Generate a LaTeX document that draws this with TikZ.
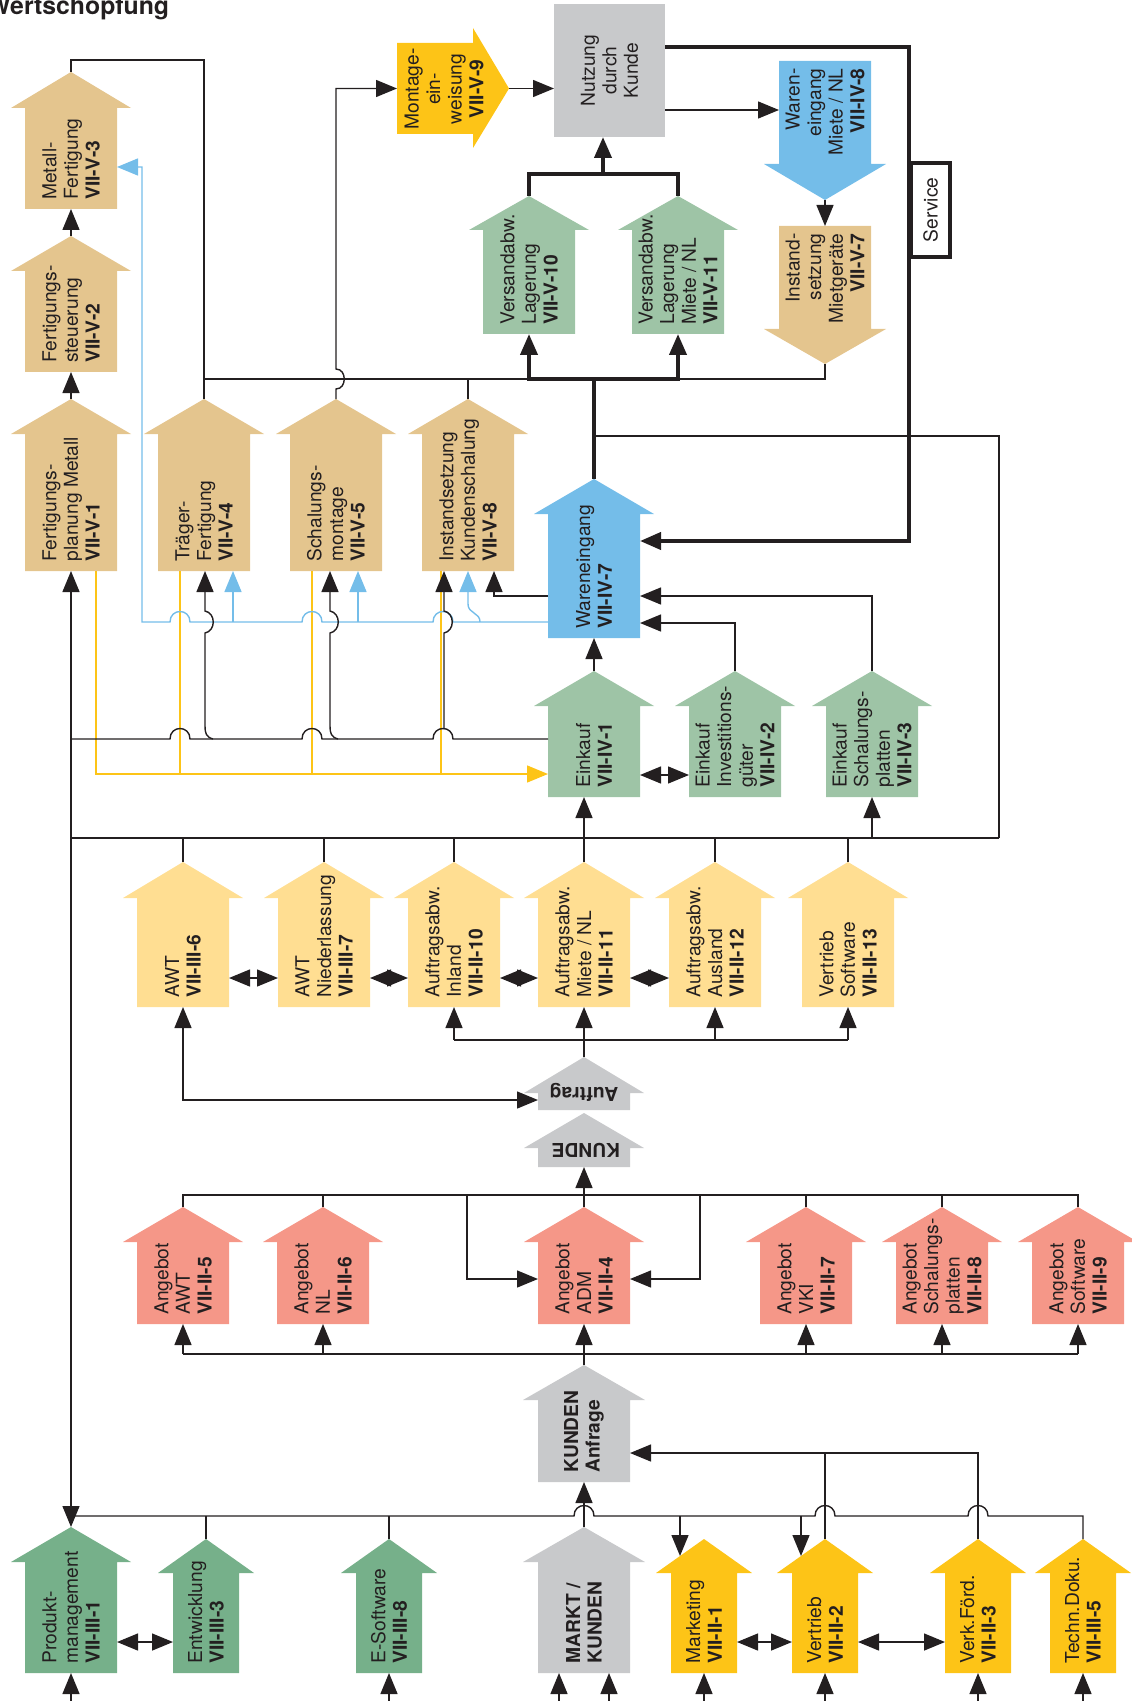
\documentclass[tikz,border=0pt]{standalone}
\usepackage{fontspec}
\setmainfont{TeX Gyre Heros}
\usetikzlibrary{arrows.meta}

\definecolor{fertig}{RGB}{228,197,142}
\definecolor{waren}{RGB}{116,189,233}
\definecolor{versand}{RGB}{158,196,166}
\definecolor{entw}{RGB}{118,176,138}
\definecolor{gelb}{RGB}{253,196,23}
\definecolor{hellgelb}{RGB}{255,222,146}
\definecolor{angebot}{RGB}{245,151,136}
\definecolor{grau}{RGB}{200,201,203}
\definecolor{linie}{RGB}{35,31,32}

% up arrow: name, x, tip, head base, bottom, half shaft, half head, colour, text
\newcommand{\pfeil}[9]{%
  \fill[#8] (#2-#6,#5) -- (#2-#6,#4) -- (#2-#7,#4) -- (#2,#3) -- (#2+#7,#4)
    -- (#2+#6,#4) -- (#2+#6,#5) -- cycle;
  \node[shaft, minimum width=#6pt, minimum height={(#5-#4)*0.5pt}] (#1) at (#2,{(#4+#5)/2}) {};
  \coordinate (#1-tip) at (#2,#3);
  \node[lbl, anchor=west] at (#2,#5-9) {#9};
}

\begin{document}
\begin{tikzpicture}[x=0.5pt, y=-0.5pt,
    ln/.style={draw=linie, line width=0.7pt},
    arr/.style={ln, -{Triangle[length=10.5pt, width=8.5pt]}},
    darr/.style={ln, {Triangle[length=10.5pt, width=8.5pt]}-{Triangle[length=10.5pt, width=8.5pt]}},
    thk/.style={draw=linie, line width=2pt},
    thkarr/.style={thk, -{Triangle[length=10.5pt, width=8.5pt]}},
    bln/.style={draw=waren, line width=0.7pt},
    barr/.style={bln, -{Triangle[length=10.5pt, width=8.5pt]}},
    yln/.style={draw=gelb, line width=0.7pt},
    yarr/.style={yln, -{Triangle[length=10.5pt, width=8.5pt]}},
    shaft/.style={inner sep=0pt, outer sep=0pt},
    lbl/.style={rotate=90, align=left, inner sep=0pt, text=linie, font=\fontsize{9.6}{10.8}\selectfont},
    grosslbl/.style={inner sep=0pt, text=linie, font=\bfseries\fontsize{9.6}{10.8}\selectfont}]
    \useasboundingbox (0,0) rectangle (1131,1701);

    % Title
    \node[anchor=base west, inner sep=0pt, text=linie, font=\bfseries\fontsize{12.4}{14}\selectfont] (titel) at (-13,15) {Wertschöpfung};

    % Bus lines
    \coordinate (busF) at (0,379);
    \coordinate (busR) at (0,436);
    \coordinate (busL) at (0,622);
    \coordinate (busB) at (0,739);
    \coordinate (busY) at (0,774);
    \coordinate (busE) at (0,838);
    \coordinate (busX) at (0,978);
    \coordinate (busA) at (0,1040);
    \coordinate (busG) at (0,1195);
    \coordinate (busH) at (0,1354);
    \coordinate (busK) at (0,1453);
    \coordinate (busM) at (0,1516);
    \coordinate (busD) at (0,1642);
    \coordinate (rand) at (0,1705);

    % Fertigung
    \pfeil{mf}{71}{72}{108}{209}{46}{60}{fertig}{Metall-\\Fertigung\\\textbf{VII-V-3}}
    \pfeil{fs}{71}{236}{271}{372}{46}{60}{fertig}{Fertigungs-\\steuerung\\\textbf{VII-V-2}}
    \pfeil{fpm}{71}{399}{434}{571}{46}{60}{fertig}{Fertigungs-\\planung Metall\\\textbf{VII-V-1}}
    \pfeil{tf}{204}{399}{434}{571}{46}{60}{fertig}{Träger-\\Fertigung\\\textbf{VII-V-4}}
    \pfeil{sm}{336}{399}{434}{571}{46}{60}{fertig}{Schalungs-\\montage\\\textbf{VII-V-5}}
    \pfeil{ik}{468}{399}{434}{571}{46}{60}{fertig}{Instandsetzung\\Kundenschalung\\\textbf{VII-V-8}}

    % Montage, Nutzung
    \fill[gelb] (397,43) -- (473,43) -- (473,28) -- (509,88.5) -- (473,148) -- (473,134) -- (397,134) -- cycle;
    \node[shaft, minimum width=38pt, minimum height=45.5pt] (me) at (435,88.5) {};
    \coordinate (me-tip) at (509,88.5);
    \node[lbl, align=center] at (444,89) {Montage-\\ein-\\weisung\\\textbf{VII-V-9}};
    \node[shaft, fill=grau, minimum width=55.5pt, minimum height=66.5pt] (nk) at (609.5,70.5) {};
    \node[lbl, align=center] at (nk) {Nutzung\\durch\\Kunde};

    % Versand
    \pfeil{v10}{529}{196}{230}{334}{46}{60}{versand}{Versandabw.\\Lagerung\\\textbf{VII-V-10}}
    \pfeil{v11}{678}{196}{230}{334}{46}{60}{versand}{Versandabw.\\Lagerung\\Miete / NL\\\textbf{VII-V-11}}

    % Mietgeraete (down arrows)
    \fill[waren] (779,61) -- (871,61) -- (871,164) -- (886,164) -- (825,200) -- (764,164) -- (779,164) -- cycle;
    \node[shaft, minimum width=46pt, minimum height=51.5pt] (wm) at (825,112.5) {};
    \coordinate (wm-tip) at (825,200);
    \node[lbl, align=right, anchor=east] at (825,68) {Waren-\\eingang\\Miete / NL\\\textbf{VII-IV-8}};
    \fill[fertig] (779,226) -- (871,226) -- (871,329) -- (886,329) -- (825,364) -- (764,329) -- (779,329) -- cycle;
    \node[shaft, minimum width=46pt, minimum height=51.5pt] (im) at (825,277.5) {};
    \coordinate (im-tip) at (825,364);
    \node[lbl, align=right, anchor=east] at (825,233) {Instand-\\setzung\\Mietgeräte\\\textbf{VII-V-7}};

    % Service
    \node[draw=linie, line width=2pt, fill=white, minimum width=19.5pt, minimum height=47pt, inner sep=0pt] (sv) at (930.5,210) {};
    \node[lbl] at (sv) {Service};

    % Wareneingang, Einkauf
    \pfeil{we}{594}{479}{514}{638}{46}{60}{waren}{Wareneingang\\\textbf{VII-IV-7}}
    \pfeil{ek1}{594}{671}{706}{797}{46}{60}{versand}{Einkauf\\\textbf{VII-IV-1}}
    \pfeil{ek2}{735}{671}{706}{797}{46}{60}{versand}{Einkauf\\Investitions-\\güter\\\textbf{VII-IV-2}}
    \pfeil{ek3}{872}{671}{706}{797}{46}{60}{versand}{Einkauf\\Schalungs-\\platten\\\textbf{VII-IV-3}}

    % Auftragsabwicklung
    \pfeil{awt6}{183}{862}{898}{1007}{46}{60}{hellgelb}{AWT\\\textbf{VII-III-6}}
    \pfeil{awt7}{324}{862}{898}{1007}{46}{60}{hellgelb}{AWT\\Niederlassung\\\textbf{VII-III-7}}
    \pfeil{ai10}{454}{862}{898}{1007}{46}{60}{hellgelb}{Auftragsabw.\\Inland\\\textbf{VII-II-10}}
    \pfeil{am11}{584}{862}{898}{1007}{46}{60}{hellgelb}{Auftragsabw.\\Miete / NL\\\textbf{VII-II-11}}
    \pfeil{aa12}{715}{862}{898}{1007}{46}{60}{hellgelb}{Auftragsabw.\\Ausland\\\textbf{VII-II-12}}
    \pfeil{vs13}{848}{862}{898}{1007}{46}{60}{hellgelb}{Vertrieb\\Software\\\textbf{VII-II-13}}

    % Auftrag, Kunde
    \pfeil{auf}{584}{1057}{1093}{1110}{46}{60}{grau}{}
    \node[grosslbl, rotate=180] at (584,1092) {Auftrag};
    \pfeil{kd}{584}{1113}{1148}{1167}{46}{60}{grau}{}
    \node[grosslbl, rotate=180] at (586,1150) {KUNDE};

    % Angebote
    \pfeil{an5}{183}{1207}{1242}{1324}{46}{60}{angebot}{Angebot\\AWT\\\textbf{VII-II-5}}
    \pfeil{an6}{323}{1207}{1242}{1324}{46}{60}{angebot}{Angebot\\NL\\\textbf{VII-II-6}}
    \pfeil{an4}{584}{1207}{1242}{1324}{46}{60}{angebot}{Angebot\\ADM\\\textbf{VII-II-4}}
    \pfeil{an7}{806}{1207}{1242}{1324}{46}{60}{angebot}{Angebot\\VKI\\\textbf{VII-II-7}}
    \pfeil{an8}{942}{1207}{1242}{1324}{46}{60}{angebot}{Angebot\\Schalungs-\\platten\\\textbf{VII-II-8}}
    \pfeil{an9}{1078}{1207}{1242}{1324}{46}{60}{angebot}{Angebot\\Software\\\textbf{VII-II-9}}

    % Kunden, Markt
    \pfeil{ka}{584}{1365}{1400}{1482}{46}{61}{grau}{\textbf{KUNDEN}\\\textbf{Anfrage}}
    \pfeil{mkd}{584}{1527}{1562}{1673}{46}{61}{grau}{\textbf{MARKT /}\\\textbf{KUNDEN}}

    % Produkt, Vertrieb
    \pfeil{pm}{71}{1527}{1562}{1673}{46}{60}{entw}{Produkt-\\management\\\textbf{VII-III-1}}
    \pfeil{ew}{206}{1539}{1573}{1673}{33}{48}{entw}{Entwicklung\\\textbf{VII-III-3}}
    \pfeil{es}{389}{1539}{1573}{1673}{33}{48}{entw}{E-Software\\\textbf{VII-III-8}}
    \pfeil{mk}{704}{1539}{1573}{1673}{33}{48}{gelb}{Marketing\\\textbf{VII-II-1}}
    \pfeil{vt}{825}{1539}{1573}{1673}{33}{48}{gelb}{Vertrieb\\\textbf{VII-II-2}}
    \pfeil{vf}{978}{1539}{1573}{1673}{33}{48}{gelb}{Verk.Förd.\\\textbf{VII-II-3}}
    \pfeil{td}{1083}{1539}{1573}{1673}{33}{48}{gelb}{Techn.Doku.\\\textbf{VII-III-5}}

    % Fertigung chain
    \draw[arr] (fs-tip) -- (mf.south);
    \draw[arr] (fpm-tip) -- (fs.south);
    \draw[ln] (mf-tip) -- ++(0,-12) -| (tf-tip);
    \draw[ln] (tf-tip |- busF) -- (im-tip |- busF) -- (im-tip);
    \draw[ln] (ik-tip) -- (ik-tip |- busF);
    \draw[arr] (sm-tip) -- (336,389) .. controls (347,389) and (347,369) .. (336,369)
        -- (me.west -| sm-tip) -- (me.west);
    \draw[arr] (me-tip) -- (me-tip -| nk.west);

    % Versand, Service
    \coordinate (vk) at (603,174);
    \draw[thk] (v10-tip) -- ++(0,-22) -| (v11-tip);
    \draw[thkarr] (vk) -- (vk |- nk.south);
    \draw[thk] (we-tip) -- (we-tip |- busF);
    \draw[thkarr] (we-tip |- busF) -| (v10.south);
    \draw[thkarr] (we-tip |- busF) -| (v11.south);
    \draw[thkarr] (nk.east |- 0,47) -| (sv.west) |- (we.east |- 0,541);
    \draw[arr] (nk.east |- 0,110) -- (wm.west |- 0,110);
    \draw[arr] (wm-tip) -- (im.north);
    \draw[ln] (we-tip |- busR) -| (busE -| 999,0);

    % Einkauf
    \draw[arr] (ek1-tip) -- (we.south);
    \draw[arr] (ek2-tip) |- (we.east |- 0,623);
    \draw[arr] (ek3-tip) |- (we.east |- 0,596);
    \draw[darr] (ek1.east |- 0,775) -- (ek2.west |- 0,775);
    \draw[arr] (we.west |- 0,596) -| (ik.south -| 494,0);

    % Yellow lines
    \draw[yarr] (fpm.south -| 96,0) |- (ek1.west |- busY);
    \draw[yln] (tf.south -| 180,0) -- (busY -| 180,0);
    \draw[yln] (sm.south -| 312,0) -- (busY -| 312,0);
    \draw[yln] (ik.south -| 441,0) -- (busY -| 441,0);

    % Blue lines
    \draw[barr] (we.west |- busL) -- (453,622) .. controls (453,608) and (433,608) .. (433,622)
        -- (322,622) .. controls (322,608) and (302,608) .. (302,622)
        -- (190,622) .. controls (190,608) and (170,608) .. (170,622)
        -- (142,622) -- (142,167) -- (mf.east |- 0,167);
    \draw[barr] (busL -| 233,0) -- (tf.south -| 233,0);
    \draw[barr] (busL -| 358,0) -- (sm.south -| 358,0);
    \draw[barr] (busL -| 480,0) .. controls (480,612) and (468,614) .. (468,604) -- (ik.south);

    % Black lines to Fertigung
    \draw[ln] (fpm.south |- busB) -- (170,739) .. controls (170,725) and (190,725) .. (190,739)
        -- (302,739) .. controls (302,725) and (322,725) .. (322,739)
        -- (433,739) .. controls (433,725) and (453,725) .. (453,739) -- (ek1.west |- busB);
    \draw[arr] (213,739) .. controls (206,737) and (205,733) .. (205,726) -- (205,633)
        .. controls (216,631) and (216,613) .. (205,611) -- (tf.south -| 205,0);
    \draw[arr] (338,739) .. controls (331,737) and (330,733) .. (330,726) -- (330,633)
        .. controls (341,631) and (341,613) .. (330,611) -- (sm.south -| 330,0);
    \draw[arr] (444,729) -- (444,633) .. controls (455,631) and (455,613) .. (444,611) -- (ik.south -| 444,0);
    \draw[darr] (fpm.south) -- (pm-tip);

    % Distribution to Auftragsabwicklung
    \draw[ln] (fpm.south |- busE) -- (busE -| 999,0);
    \draw[ln] (awt6-tip) -- (awt6-tip |- busE);
    \draw[ln] (awt7-tip) -- (awt7-tip |- busE);
    \draw[ln] (ai10-tip) -- (ai10-tip |- busE);
    \draw[ln] (aa12-tip) -- (aa12-tip |- busE);
    \draw[ln] (vs13-tip) -- (vs13-tip |- busE);
    \draw[arr] (am11-tip) -- (ek1.south -| am11-tip);
    \draw[arr] (busE -| ek3.south) -- (ek3.south);
    \draw[darr] (awt6.east |- busX) -- (awt7.west |- busX);
    \draw[darr] (awt7.east |- busX) -- (ai10.west |- busX);
    \draw[darr] (ai10.east |- busX) -- (am11.west |- busX);
    \draw[darr] (am11.east |- busX) -- (aa12.west |- busX);

    % Auftrag
    \draw[darr] (awt6.south) |- (auf.west |- 0,1100);
    \draw[arr] (auf-tip) -- (am11.south);
    \draw[ln] (ai10.south |- busA) -- (vs13.south |- busA);
    \draw[arr] (ai10.south |- busA) -- (ai10.south);
    \draw[arr] (aa12.south |- busA) -- (aa12.south);
    \draw[arr] (vs13.south |- busA) -- (vs13.south);

    % Angebote
    \draw[arr] (an4-tip) -- (kd.south);
    \draw[ln] (an5-tip) |- (an9-tip |- busG) -- (an9-tip);
    \draw[ln] (an6-tip) -- (an6-tip |- busG);
    \draw[ln] (an7-tip) -- (an7-tip |- busG);
    \draw[ln] (an8-tip) -- (an8-tip |- busG);
    \draw[arr] (busG -| 467,0) |- (an4.west |- 0,1279);
    \draw[arr] (busG -| 700,0) |- (an4.east |- 0,1279);
    \draw[arr] (ka-tip) -- (an4.south);
    \draw[ln] (an5.south |- busH) -- (an9.south |- busH);
    \draw[arr] (an5.south |- busH) -- (an5.south);
    \draw[arr] (an6.south |- busH) -- (an6.south);
    \draw[arr] (an7.south |- busH) -- (an7.south);
    \draw[arr] (an8.south |- busH) -- (an8.south);
    \draw[arr] (an9.south |- busH) -- (an9.south);

    % Kundenanfrage
    \draw[arr] (mkd-tip) -- (ka.south);
    \draw[arr] (vt-tip) |- (ka.east |- busK);
    \draw[ln] (vf-tip) -- (vf-tip |- busK) -- (vt-tip |- busK);

    % Bottom distribution
    \coordinate (mk-in) at (680,1556);
    \coordinate (vt-in) at (801,1556);
    \draw[ln] (pm-tip |- busM) -- (574,1516) .. controls (574,1502) and (594,1502) .. (594,1516)
        -- (815,1516) .. controls (815,1502) and (835,1502) .. (835,1516)
        -- (968,1516) .. controls (968,1502) and (988,1502) .. (988,1516)
        -- (td-tip |- busM) -- (td-tip);
    \draw[ln] (ew-tip) -- (ew-tip |- busM);
    \draw[ln] (es-tip) -- (es-tip |- busM);
    \draw[arr] (busM -| mk-in) -- (mk-in);
    \draw[arr] (busM -| vt-in) -- (vt-in);
    \draw[darr] (pm.east |- busD) -- (ew.west |- busD);
    \draw[darr] (mk.east |- busD) -- (vt.west |- busD);
    \draw[darr] (vt.east |- busD) -- (vf.west |- busD);

    % Inputs from below
    \draw[arr] (pm.south |- rand) -- (pm.south);
    \draw[arr] (es.south |- rand) -- (es.south);
    \draw[arr] (rand -| 559,0) -- (mkd.south -| 559,0);
    \draw[arr] (rand -| 609,0) -- (mkd.south -| 609,0);
    \draw[arr] (mk.south |- rand) -- (mk.south);
    \draw[arr] (vt.south |- rand) -- (vt.south);
    \draw[arr] (vf.south |- rand) -- (vf.south);
    \draw[arr] (td.south |- rand) -- (td.south);
\end{tikzpicture}
\end{document}
